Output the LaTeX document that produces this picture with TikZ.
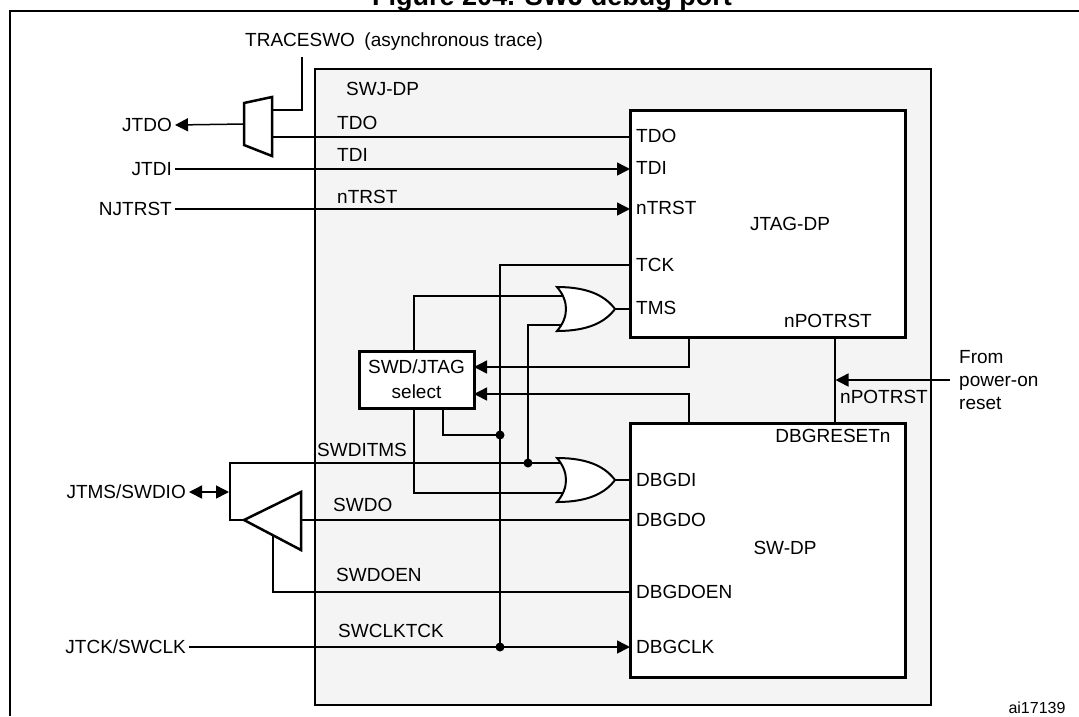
\documentclass[tikz,border=0pt]{standalone}
\usepackage{fontspec}
\setmainfont{Liberation Sans}
\usetikzlibrary{arrows.meta}
\definecolor{swjgray}{RGB}{244,244,244}
\begin{document}
\begin{tikzpicture}[x=1pt,y=-1pt,>={Triangle[length=13pt,width=13pt]},
    font=\fontsize{19}{23}\selectfont,
    wire/.style={line width=1.5pt},
    blk/.style={draw,line width=3pt,fill=white,inner sep=0pt},
    pin/.style={anchor=west,inner sep=0pt,inner xsep=6pt},
    ext/.style={anchor=east,inner sep=3pt},
    lbl/.style={anchor=west,inner sep=0pt},
    dot/.style={circle,fill,inner sep=0pt,minimum size=9pt}]
\useasboundingbox (0,0) rectangle (1079,716);
\node[anchor=base,font=\fontsize{27}{30}\selectfont\bfseries] (title) at (552,5) {Figure 204. SWJ debug port};
\draw[line width=2.5pt] (9,11)--(1079,11);
\draw[line width=2pt] (10,11)--(10,716);
\node[draw,line width=2pt,fill=swjgray,minimum width=616pt,minimum height=636pt] (swj) at (623,387) {};
\node[lbl] at (346,89) {SWJ-DP};
\node[lbl] (traceswo) at (245,42) {TRACESWO\enspace(asynchronous trace)};
% outside labels
\node[ext] (jtdo) at (175,125) {JTDO};
\node[ext] (jtdi) at (175,169) {JTDI};
\node[ext] (njtrst) at (175,209) {NJTRST};
\node[ext] (jtms) at (189,492) {JTMS/SWDIO};
\node[ext] (jtck) at (189,647) {JTCK/SWCLK};
% wires
\draw[wire] (272,110)-|(302,57);
\draw[wire,->] (244,124)--(jtdo.east);
\draw[wire] (272,137)--(630,137);
\draw[wire,->] (jtdi.east)--(630,169);
\draw[wire,->] (njtrst.east)--(630,209);
\node[lbl] at (337,123) {TDO};
\node[lbl] at (337,155) {TDI};
\node[lbl] at (337,197) {nTRST};
\draw[wire] (630,265)-|(500,647);
\draw[wire] (615,309)--(630,309);
\draw[wire] (414,351)|-(575,296);
\draw[wire] (528,463)|-(575,325);
\draw[wire] (443,408)|-(500,435);
\draw[wire] (414,408)|-(575,493);
\draw[wire] (244,520)-|(230,463)--(575,463);
\draw[wire,<->] (jtms.east)--(229,492);
\draw[wire] (615,480)--(630,480);
\draw[wire] (301,520)--(630,520);
\draw[wire] (273,535)|-(630,592);
\draw[wire,->] (jtck.east)--(630,647);
\draw[wire,->] (689,337)|-(474,367);
\draw[wire,->] (689,423)|-(474,394);
\draw[wire] (835,337)--(835,423);
\node[lbl] at (317,450) {SWDITMS};
\node[lbl] at (333,505) {SWDO};
\node[lbl] at (336,575) {SWDOEN};
\node[lbl] at (338,631) {SWCLKTCK};
\node[dot] (d1) at (500,435) {};
\node[dot] (d2) at (528,463) {};
\node[dot] (d3) at (500,647) {};
% mux, buffer, gates
\draw[line width=2.5pt,fill=white] (244,103)--(272,97)--(272,156)--(244,145)--cycle;
\draw[line width=2.5pt,fill=white] (244,520)--(301,492)--(301,550)--cycle;
\foreach \yc in {309,480}
  \draw[line width=2pt,fill=white] (557,{\yc-22}) .. controls (569,{\yc-8}) and (569,{\yc+8}) .. (557,{\yc+22})
    .. controls (590,{\yc+22}) and (606,{\yc+12}) .. (615,\yc)
    .. controls (606,{\yc-12}) and (590,{\yc-22}) .. (557,{\yc-22})--cycle;
% blocks
\node[blk,minimum width=275pt,minimum height=227pt] (jtag) at (767.5,223.5) {};
\node[blk,minimum width=275pt,minimum height=254pt] (swdp) at (767.5,550) {};
\node[blk,minimum width=115pt,minimum height=57pt,align=center,font=\fontsize{19}{25}\selectfont] (sel) at (416.5,379.5) {SWD/JTAG\\select};
\foreach \n/\y in {TDO/136,TDI/168,nTRST/208,TCK/265,TMS/308,DBGDI/480,DBGDO/520,DBGDOEN/592,DBGCLK/647}
  \node[pin] (p\n) at (630,\y) {\n};
\node at (790,224) {JTAG-DP};
\node at (785,548) {SW-DP};
\node at (828,321) {nPOTRST};
\node at (833,436) {DBGRESETn};
% power-on reset
\node[anchor=west,align=left,inner sep=0pt] (por) at (959,380) {From\\power-on\\reset};
\draw[wire,->] (950,380)--(835.5,380);
\node[lbl] at (840,397) {nPOTRST};
\node[font=\fontsize{16}{18}\selectfont] at (1037,708) {ai17139};
\end{tikzpicture}
\end{document}
